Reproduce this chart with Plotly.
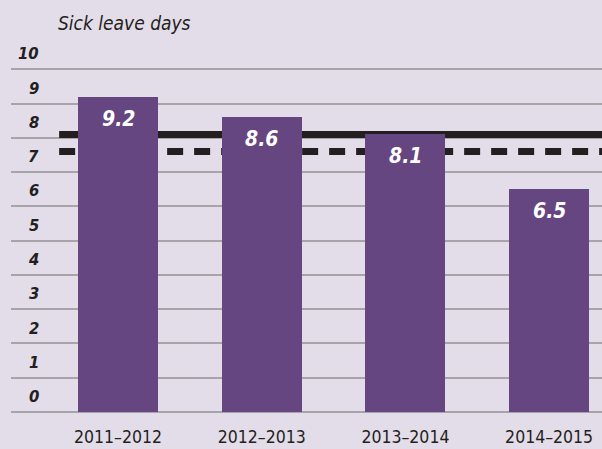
import plotly.graph_objects as go

# ---- data ----
categories = ["2011–2012", "2012–2013", "2013–2014", "2014–2015"]
sick_days = [9.2, 8.6, 8.1, 6.5]
value_labels = ["9.2", "8.6", "8.1", "6.5"]
solid_ref = 8.1      # solid reference line
dashed_ref = 7.6     # dashed reference line
y_ticks = list(range(0, 11))
title_text = "Sick leave days"

# ---- style ----
BG = "#E3DCE9"
BAR = "#664680"
GRID = "#A6A4A9"
INK = "#231F20"
FONT = "Liberation Sans Narrow, DejaVu Sans Condensed, Arial Narrow, sans-serif"

W, H = 602, 449
ML, MR, MT, MB = 11, 0, 35, 37
plot_w = W - ML - MR
plot_h = H - MT - MB

fig = go.Figure()

fig.add_trace(go.Bar(
    x=categories, y=sick_days, width=0.557,
    marker=dict(color=BAR, line=dict(width=0)),
    hoverinfo="skip", showlegend=False,
))

# reference lines (below bars)
for val, dash in [(solid_ref, "solid"), (dashed_ref, "16px,11px")]:
    fig.add_shape(type="line", xref="x", yref="y",
                  x0=-0.41, x1=3.368, y0=val, y1=val,
                  line=dict(color=INK, width=7, dash=dash),
                  layer="between")

annotations = []
# value labels inside bars
for c, v, t in zip(categories, sick_days, value_labels):
    annotations.append(dict(
        x=c, y=v, xref="x", yref="y", text=f"<b><i>{t}</i></b>",
        showarrow=False, yanchor="middle", yshift=-22,
        font=dict(family=FONT, size=21, color="white"),
    ))
# y labels sitting above each gridline
for k in y_ticks:
    annotations.append(dict(
        x=(41 - ML) / plot_w, y=k + 0.45, xref="paper", yref="y",
        text=f"<b><i>{k}</i></b>", showarrow=False,
        xanchor="right", yanchor="middle",
        font=dict(family=FONT, size=16.5, color=INK),
    ))
# title
annotations.append(dict(
    x=(56 - ML) / plot_w, y=1 + (MT - 23) / plot_h, xref="paper", yref="paper",
    text=f"<i>{title_text}</i>", showarrow=False,
    xanchor="left", yanchor="middle",
    font=dict(family=FONT, size=19, color=INK),
))

fig.update_layout(
    width=W, height=H,
    margin=dict(l=ML, r=MR, t=MT, b=MB, pad=0),
    paper_bgcolor=BG, plot_bgcolor=BG,
    annotations=annotations,
    bargap=0,
    xaxis=dict(
        type="category", range=[-0.745, 3.368],
        showgrid=False, zeroline=False, showline=False, ticks="",
        tickfont=dict(family=FONT, size=17.5, color=INK),
        ticklabelstandoff=12,
    ),
    yaxis=dict(
        range=[0, 11], dtick=1, tick0=0,
        showgrid=True, gridcolor=GRID, gridwidth=1.5,
        zeroline=True, zerolinecolor=GRID, zerolinewidth=1.5,
        showticklabels=False, ticks="", showline=False,
    ),
)

fig.write_html("out.html", config={"displayModeBar": False},
               post_script="document.body.style.margin='0';")
